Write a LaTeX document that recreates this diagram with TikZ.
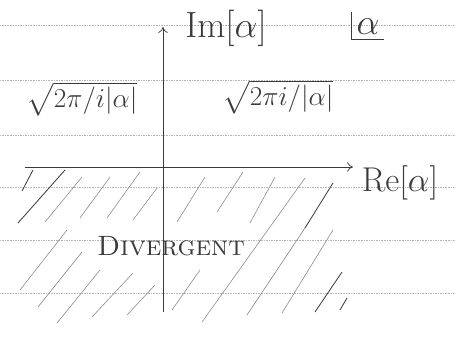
\documentclass[tikz,border=0pt]{standalone}
\usepackage{amsmath}
\usepackage{amssymb}
\usetikzlibrary{arrows.meta, positioning}
\definecolor{cink}{HTML}{3A3A3A}
\definecolor{chatch}{HTML}{8A8A8A}
\definecolor{crule}{HTML}{B5B5B5}

\begin{document}
\begin{tikzpicture}[
  x=0.03cm, y=-0.03cm,
  ruled/.style={crule, densely dotted, line width=0.4pt},
  axis/.style={-{To[length=5pt, width=8pt]}, cink, line width=0.6pt},
  hatch/.style={chatch, line width=0.5pt},
  dkhatch/.style={cink, line width=0.7pt},
  lbl/.style={cink, inner sep=1pt}
]
  \useasboundingbox (0,0) rectangle (455,338);

  % ruled paper
  \foreach \yy in {25, 80, 135, 187, 240, 293}
    \draw[ruled] (0,\yy) -- (455,\yy);

  % axes
  \coordinate (ybot) at (163,312);
  \coordinate (ytop) at (163,27);
  \coordinate (xleft) at (25,167);
  \coordinate (xright) at (353,167);
  \draw[axis] (ybot) -- (ytop);
  \draw[axis] (xleft) -- (xright);

  % shaded (divergent) half plane
  \foreach \xa/\ya/\xb/\yb in {
      45/222/82/177, 80/218/110/177, 107/218/140/172, 133/220/157/188,
      177/222/205/177, 217/212/243/172, 250/223/275/177, 202/322/305/178,
      20/290/67/230, 38/307/82/252, 57/323/100/270, 92/317/133/273,
      127/315/155/285, 172/310/200/270, 282/313/333/230, 247/315/305/228}
    \draw[hatch] (\xa,\ya) -- (\xb,\yb);
  \foreach \xa/\ya/\xb/\yb in {
      22/191/33/170, 18/223/65/170, 305/228/333/183, 315/312/342/272,
      340/310/347/298}
    \draw[dkhatch] (\xa,\ya) -- (\xb,\yb);

  % labels
  \node[lbl, font=\huge, scale=1.5] (imlbl) at (226,28) {$\mathrm{Im}[\alpha]$};
  \node[lbl, font=\LARGE, scale=1.7] (relbl) at (400,183) {$\mathrm{Re}[\alpha]$};
  \node[lbl, font=\LARGE, scale=1.8] (alpha) at (368,27) {$\alpha$};
  \draw[cink, line width=0.6pt] ([xshift=-2pt, yshift=4pt]alpha.north west) |- ([xshift=2pt, yshift=-2pt]alpha.south east);

  \node[lbl, font=\LARGE, scale=1.35] (left) at (82,99) {$\sqrt{2\pi/i|\alpha|}$};
  \node[lbl, font=\LARGE, scale=1.35] (right) at (278,97) {$\sqrt{2\pi i/|\alpha|}$};

  \node[lbl, font=\huge, scale=1.15] (div) at (171,246) {\textsc{Divergent}};
\end{tikzpicture}
\end{document}
